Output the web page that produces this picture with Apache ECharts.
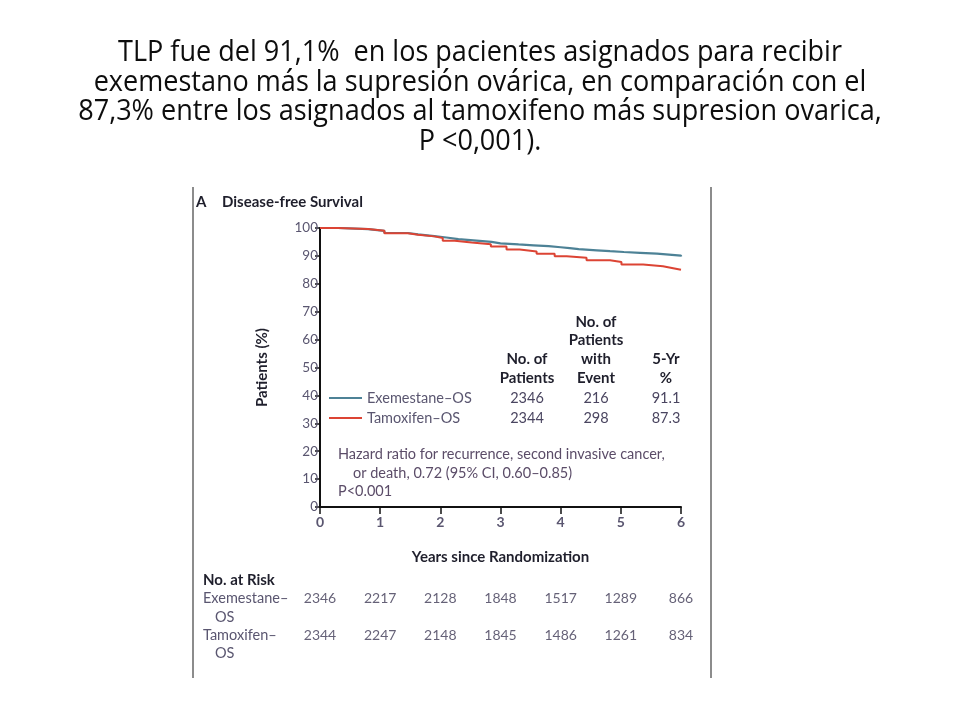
<!DOCTYPE html>
<html>
<head>
<meta charset="utf-8">
<script src="https://cdn.jsdelivr.net/npm/echarts@6/dist/echarts.min.js"></script>
<style>html,body{margin:0;padding:0;background:#fff}#c{width:960px;height:720px}</style>
</head>
<body>
<div id="c"></div>
<script>
// ---- Data ----
const titleLines = [
  'TLP fue del 91,1%  en los pacientes asignados para recibir',
  'exemestano más la supresión ovárica, en comparación con el',
  '87,3% entre los asignados al tamoxifeno más supresion ovarica,',
  'P <0,001).'
];
const panelTitle = 'Disease-free Survival';
const seriesNames = ['Exemestane–OS', 'Tamoxifen–OS'];
const exemTimes = [0, 0.3, 0.8, 1.07, 1.46, 1.63, 1.9, 2.1, 2.3, 2.6, 2.85, 3.0, 3.3, 3.55, 3.8, 4.0, 4.15, 4.3, 4.6, 4.82, 5.05, 5.32, 5.6, 5.85, 6.0];
const exemSurv  = [100, 99.6, 99.0, 98.2, 97.7, 97.1, 96.6, 96.0, 95.5, 95.0, 94.5, 94.1, 93.8, 93.5, 93.1, 92.8, 92.4, 92.0, 91.7, 91.4, 91.1, 90.8, 90.4, 90.1, 89.8];
const tamoxTimes = [0, 0.3, 0.8, 1.07, 1.46, 1.63, 1.9, 2.04, 2.24, 2.52, 2.84, 3.1, 3.32, 3.6, 3.9, 4.1, 4.43, 4.82, 5.01, 5.37, 5.7, 5.87, 6.0];
const tamoxSurv  = [100, 99.6, 99.0, 98.1, 97.6, 97.0, 96.4, 95.4, 94.8, 94.2, 93.4, 92.3, 91.6, 90.8, 89.9, 89.3, 88.4, 87.8, 86.9, 86.3, 85.6, 85.0, 84.8];
const noPatients = [2346, 2344];
const noEvents = [216, 298];
const fiveYr = ['91.1', '87.3'];
const riskYears = [0, 1, 2, 3, 4, 5, 6];
const riskExem  = [2346, 2217, 2128, 1848, 1517, 1289, 866];
const riskTamox = [2344, 2247, 2148, 1845, 1486, 1261, 834];
const riskLabels = [['Exemestane–', 'OS'], ['Tamoxifen–', 'OS']];
const hazardLines = ['Hazard ratio for recurrence, second invasive cancer,', 'or death, 0.72 (95% CI, 0.60–0.85)', 'P<0.001'];

// ---- Styles ----
const colors = ['#4d8296', '#dc4434'];
const FONT = 'Lato, "Open Sans", sans-serif';
const TFONT = '29px "Open Sans", "Noto Sans", sans-serif';
const TXT = '#4a4560';
const DARK = '#1f1f2c';
const BODY = '14.5px ' + FONT;
const BOLD = 'bold 15px ' + FONT;

const chart = echarts.init(document.getElementById('c'));

function txt(x, y, s, opt, extra) {
  return Object.assign({
    type: 'text', x: x, y: y,
    style: Object.assign({ text: s, font: BODY, fill: TXT, textAlign: 'left', textVerticalAlign: 'middle' }, opt || {})
  }, extra || {});
}
const graphics = [];
// slide title (condensed to match the original narrow face)
const mctx = document.createElement('canvas').getContext('2d');
mctx.font = TFONT;
const titleScale = 724 / mctx.measureText(titleLines[0]).width;
[53, 83, 112, 142].forEach((y, i) => graphics.push(
  txt(480, y, titleLines[i], { font: TFONT, fill: '#0d0d0d', textAlign: 'center' }, { scaleX: titleScale })
));
// frame lines
graphics.push({ type: 'line', shape: { x1: 193, y1: 187, x2: 193, y2: 678 }, style: { stroke: '#8c8c8c', lineWidth: 2 } });
graphics.push({ type: 'line', shape: { x1: 711, y1: 187, x2: 711, y2: 678 }, style: { stroke: '#8c8c8c', lineWidth: 2 } });
// panel title
graphics.push(txt(196, 202, 'A', { font: BOLD, fill: DARK }));
graphics.push(txt(222, 202, panelTitle, { font: BOLD, fill: DARK }));
// legend table headers
const boldC = { font: BOLD, fill: DARK, textAlign: 'center' };
[['No. of', 322], ['Patients', 340], ['with', 359], ['Event', 378]].forEach(h => graphics.push(txt(596, h[1], h[0], boldC)));
[['No. of', 359], ['Patients', 378]].forEach(h => graphics.push(txt(527, h[1], h[0], boldC)));
[['5-Yr', 359], ['%', 378]].forEach(h => graphics.push(txt(666, h[1], h[0], boldC)));
// legend rows
const rowY = [398, 418];
seriesNames.forEach((n, i) => {
  graphics.push({ type: 'line', shape: { x1: 329, y1: rowY[i], x2: 362, y2: rowY[i] }, style: { stroke: colors[i], lineWidth: 2 } });
  graphics.push(txt(367, rowY[i], n, { fill: '#5a5670' }));
  graphics.push(txt(527, rowY[i], String(noPatients[i]), { textAlign: 'center' }));
  graphics.push(txt(596, rowY[i], String(noEvents[i]), { textAlign: 'center' }));
  graphics.push(txt(666, rowY[i], fiveYr[i], { textAlign: 'center' }));
});
// hazard text
[[338, 454], [353, 473], [338, 491]].forEach((p, i) => graphics.push(txt(p[0], p[1], hazardLines[i], { fill: '#5b4c68' })));
// number at risk labels
graphics.push(txt(203, 580, 'No. at Risk', { font: BOLD, fill: DARK }));
[[598, 617], [635, 653]].forEach((ys, i) => {
  graphics.push(txt(203, ys[0], riskLabels[i][0], { fill: '#5a5670' }));
  graphics.push(txt(215, ys[1], riskLabels[i][1], { fill: '#5a5670' }));
});

function zip(a, b) { return a.map((v, i) => [v, b[i]]); }
const riskData = riskYears.map((t, i) => [t, 1, riskExem[i]]).concat(riskYears.map((t, i) => [t, 0, riskTamox[i]]));

chart.setOption({
  backgroundColor: '#fff',
  animation: false,
  grid: [
    { left: 320, right: 279, top: 228, bottom: 213 },
    { left: 320, right: 279, top: 598, bottom: 85 }
  ],
  xAxis: [
    {
      gridIndex: 0, type: 'value', min: 0, max: 6, interval: 1,
      name: 'Years since Randomization', nameLocation: 'middle', nameGap: 43,
      nameTextStyle: { fontFamily: FONT, fontWeight: 'bold', fontSize: 15, color: DARK },
      axisLine: { lineStyle: { color: '#111', width: 2 } },
      axisTick: { length: 7, lineStyle: { color: '#111', width: 1.5 } },
      axisLabel: { margin: 8, fontFamily: FONT, fontSize: 14, fontWeight: 'bold', color: '#5a5670' },
      splitLine: { show: false }
    },
    { gridIndex: 1, type: 'value', min: 0, max: 6, show: false }
  ],
  yAxis: [
    {
      gridIndex: 0, type: 'value', min: 0, max: 100, interval: 10,
      name: 'Patients (%)', nameLocation: 'middle', nameGap: 50, nameRotate: 90,
      nameTextStyle: { fontFamily: FONT, fontWeight: 'bold', fontSize: 15, color: DARK },
      axisLine: { show: true, lineStyle: { color: '#111', width: 2 } },
      axisTick: { show: true, length: 5, lineStyle: { color: '#111', width: 1.5 } },
      axisLabel: { margin: 2, fontFamily: FONT, fontSize: 13.5, color: '#5a5670' },
      splitLine: { show: false }
    },
    { gridIndex: 1, type: 'value', min: 0, max: 1, show: false }
  ],
  series: [
    {
      name: seriesNames[0], type: 'line', step: 'end', xAxisIndex: 0, yAxisIndex: 0,
      data: zip(exemTimes, exemSurv), showSymbol: false, symbol: 'none',
      lineStyle: { color: colors[0], width: 2.2 }, z: 2
    },
    {
      name: seriesNames[1], type: 'line', step: 'end', xAxisIndex: 0, yAxisIndex: 0,
      data: zip(tamoxTimes, tamoxSurv), showSymbol: false, symbol: 'none',
      lineStyle: { color: colors[1], width: 2 }, z: 3
    },
    {
      name: 'risk', type: 'scatter', xAxisIndex: 1, yAxisIndex: 1, silent: true,
      data: riskData, symbolSize: 2, itemStyle: { color: 'rgba(0,0,0,0)' },
      label: { show: true, position: 'inside', formatter: p => String(p.value[2]), fontFamily: FONT, fontSize: 14, color: '#3f3a55' }
    }
  ],
  graphic: graphics
});
</script>
</body>
</html>
